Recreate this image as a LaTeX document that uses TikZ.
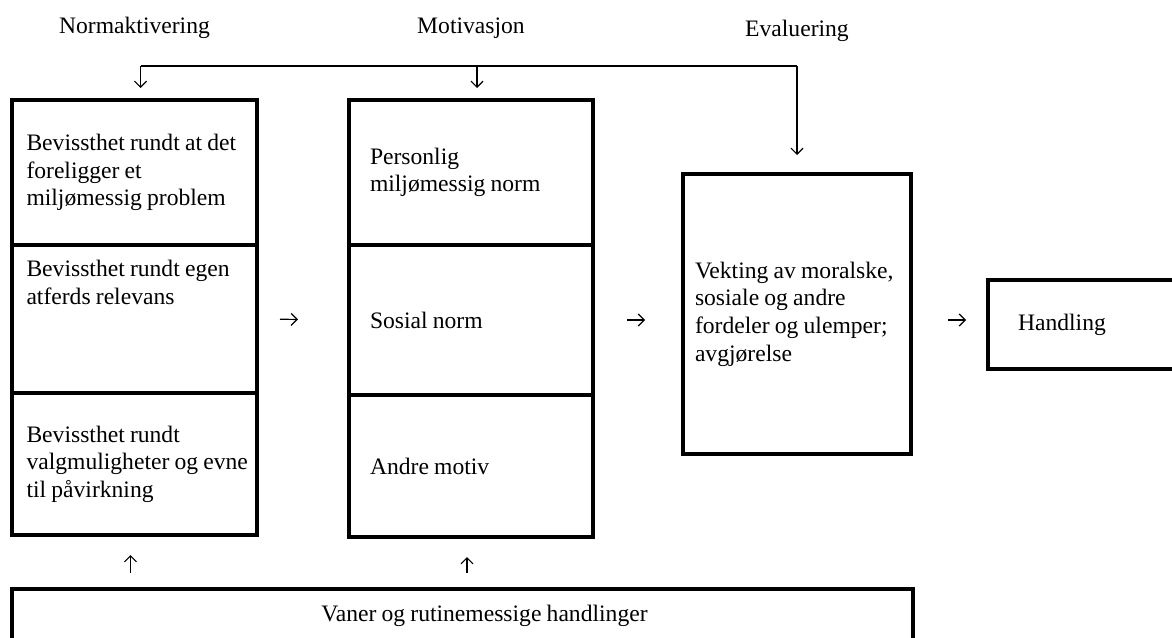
\documentclass[tikz,border=0pt]{standalone}
\usepackage{fontspec}
\setmainfont{Liberation Serif}
\usetikzlibrary{arrows.meta, positioning}
\newcommand\diagfont{\fontsize{11.8}{13.8}\selectfont\spaceskip=0.22em plus 0.05em minus 0.02em\relax}
\tikzset{
	cell/.style     ={rectangle, draw=black, line width=2pt, outer sep=0pt, minimum width=122.5pt, align=flush left},
	headtxt/.style  ={inner sep=0pt},
	flowarrow/.style={-{Straight Barb[length=3pt, width=6pt]}, line width=0.6pt},
	busline/.style  ={line width=0.6pt},
}

\begin{document}
\begin{tikzpicture}[x=0.5pt, y=-0.5pt, font=\diagfont]
	\useasboundingbox (0,0) rectangle (1172,637);
	% Normaktivering
	\node[cell, text width=108pt, minimum height=72.5pt, anchor=north west] (nb1) at (12,100) {\mbox{Bevissthet rundt at det}\\foreligger et\\miljømessig problem};
	\node[cell, text width=108pt, minimum height=74pt, below=0pt of nb1] (nb2) {Bevissthet rundt egen\\atferds relevans\\[23pt]\mbox{}};
	\node[cell, text width=108pt, minimum height=71pt, below=0pt of nb2] (nb3) {Bevissthet rundt\\\mbox{valgmuligheter og evne}\\til påvirkning};
	% Motivasjon
	\node[cell, minimum width=122pt, text width=101pt, minimum height=72.5pt, anchor=north west] (mo1) at (349,100) {Personlig\\miljømessig norm};
	\node[cell, minimum width=122pt, text width=101pt, minimum height=75pt, below=0pt of mo1] (mo2) {Sosial norm};
	\node[cell, minimum width=122pt, text width=101pt, minimum height=71pt, below=0pt of mo2] (mo3) {Andre motiv};
	% Evaluering, handling, vaner
	\node[cell, minimum width=114pt, text width=102pt, minimum height=140pt, anchor=north west] (ev) at (683,174) {\mbox{Vekting av moralske,}\\sosiale og andre\\\mbox{fordeler og ulemper;}\\avgjørelse};
	\node[cell, minimum width=100pt, text width=70pt, minimum height=44.5pt, anchor=north west] (hd) at (988,280) {Handling};
	\node[cell, minimum width=450.5pt, minimum height=27pt, align=center, anchor=north west] (vr) at (12,589) {\hspace*{22pt}Vaner og rutinemessige handlinger};
	% headings
	\node[headtxt] (hNorm) at (nb1 |- 0,28) {Normaktivering};
	\node[headtxt] (hMot) at (mo1 |- 0,28) {Motivasjon};
	\node[headtxt] (hEval) at (ev |- 0,31) {Evaluering};
	% arrows
	\coordinate (bus) at (0,66);
	\draw[busline] ([xshift=3pt]bus -| nb1) -- (bus -| ev);
	\draw[flowarrow, shorten >=6pt] ([xshift=3pt]bus -| nb1) -- ([xshift=3pt]nb1.north);
	\draw[flowarrow, shorten >=6pt] ([xshift=3pt]bus -| mo1) -- ([xshift=3pt]mo1.north);
	\draw[flowarrow, shorten >=9.5pt] (bus -| ev) -- (ev.north);
	\draw[flowarrow, shorten <=11.5pt, shorten >=25.5pt] (nb2.east) -- (mo2.west);
	\draw[flowarrow, shorten <=17pt, shorten >=19pt] (mo2.east) -- (mo2.east -| ev.west);
	\draw[flowarrow, shorten <=18.5pt, shorten >=11pt] (ev.east |- mo2) -- (hd.west |- mo2);
	\draw[flowarrow, shorten <=8pt, shorten >=10pt] ([xshift=-2pt]vr.north -| nb3) -- ([xshift=-2pt]nb3.south);
	\draw[flowarrow, shorten <=8pt, shorten >=10pt] ([xshift=-2pt]vr.north -| mo3) -- ([xshift=-2pt]mo3.south);
\end{tikzpicture}
\end{document}
